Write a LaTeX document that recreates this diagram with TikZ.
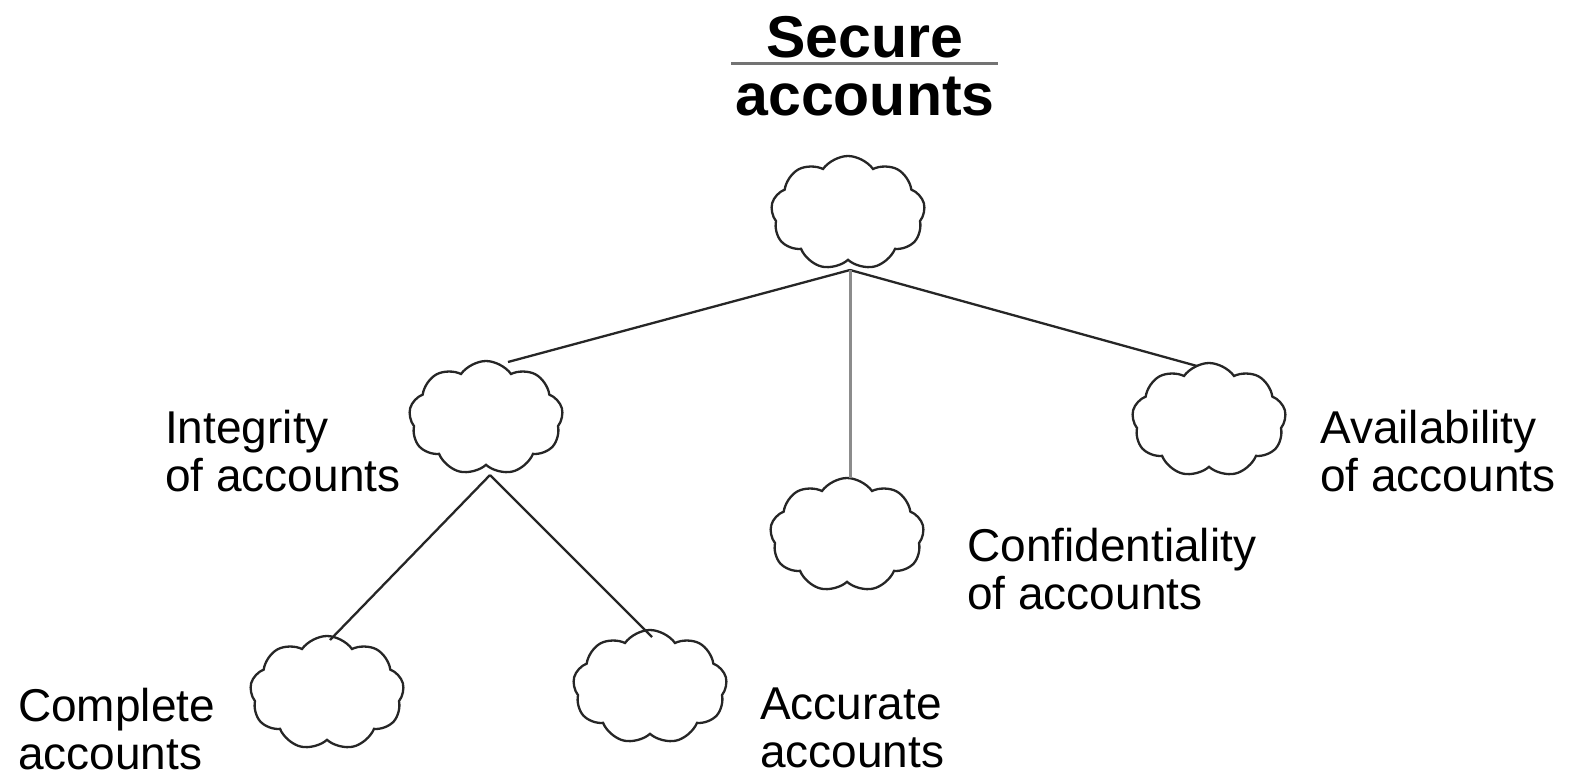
\documentclass[tikz,border=0pt]{standalone}
\usepackage{fontspec}
\setmainfont{Liberation Sans}
\usetikzlibrary{shapes.symbols}
\begin{document}
\begin{tikzpicture}[x=1pt,y=-1pt,
  cloudbox/.style={cloud, draw=black!85, line width=2.3pt, cloud puffs=9,
    cloud puff arc=110, aspect=1.35, minimum width=154pt, minimum height=114pt,
    inner sep=0pt},
  link/.style={draw=black!85, line width=2.3pt},
  glink/.style={draw=black!45, line width=3pt},
  lbl/.style={align=left, anchor=north west, font=\fontsize{46}{48}\selectfont, inner sep=0pt},
  ttl/.style={anchor=center, font=\fontsize{59}{60}\bfseries\selectfont, inner sep=0pt}]
\useasboundingbox (0,0) rectangle (1571,779);
% title
\node[ttl] (t1) at (865,37) {Secure};
\node[ttl] (t2) at (865,97) {accounts};
\draw[draw=black!55, line width=3pt] (731,63) -- (998,63);
% clouds
\node[cloudbox] (top) at (848,213) {};
\node[cloudbox] (int) at (486,418) {};
\node[cloudbox] (ava) at (1209,420) {};
\node[cloudbox] (con) at (847,535) {};
\node[cloudbox] (cmp) at (327,693) {};
\node[cloudbox] (acc) at (650,687) {};
% attachment points on the cloud outlines
\coordinate (topB) at (850,270);
\coordinate (intT) at (508,362);
\coordinate (intB) at (490,475);
\coordinate (avaT) at (1197,366);
\coordinate (conT) at (850,478);
\coordinate (cmpT) at (330,640);
\coordinate (accT) at (652,637);
% connectors
\path[link] (topB) -- (intT);
\path[link] (topB) -- (avaT);
\path[glink] (topB) -- (conT);
\path[link] (intB) -- (cmpT);
\path[link] (intB) -- (accT);
% labels
\node[lbl] (lint) at (165,410) {Integrity\\of accounts};
\node[lbl] (lava) at (1320,410) {Availability\\of accounts};
\node[lbl] (lcon) at (967,528) {Confidentiality\\of accounts};
\node[lbl] (lcmp) at (18,688) {Complete\\accounts};
\node[lbl] (lacc) at (760,688) {Accurate\\accounts};
\end{tikzpicture}
\end{document}
